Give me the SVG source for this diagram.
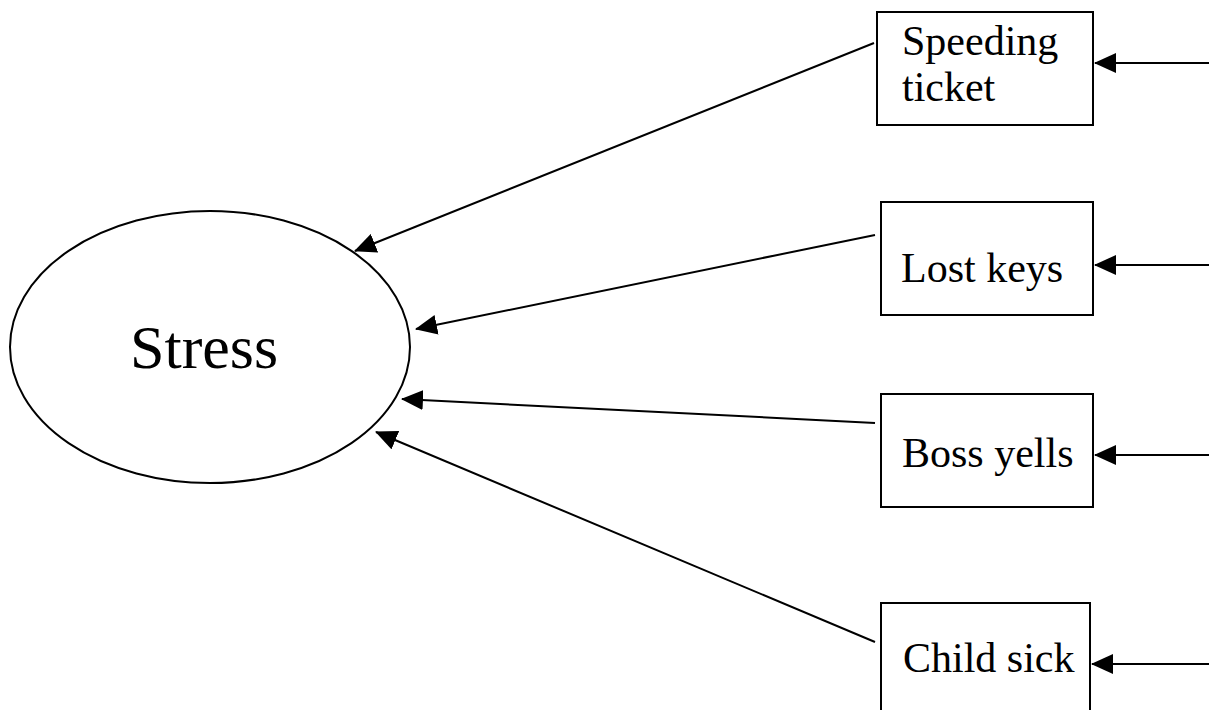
<svg xmlns="http://www.w3.org/2000/svg" width="1209" height="710" viewBox="0 0 1209 710">
  <style>
    .shape { fill: #fff; stroke: #000; stroke-width: 2; }
    .edge { stroke: #000; stroke-width: 2; fill: none; marker-end: url(#arrow); }
    .label { font-family: "Liberation Serif", "Times New Roman", serif; font-size: 42px; fill: #000; }
    .big { font-size: 62px; }
  </style>
  <defs>
    <marker id="arrow" viewBox="0 0 22 20" refX="21" refY="10" markerWidth="22" markerHeight="20" markerUnits="userSpaceOnUse" orient="auto">
      <path d="M0,0 L22,10 L0,20 Z" fill="#000"/>
    </marker>
  </defs>
  <rect width="1209" height="710" fill="#fff"/>

  <g id="stress">
    <ellipse class="shape" cx="210" cy="347" rx="200" ry="136"/>
    <text class="label big" x="130" y="368">Stress</text>
  </g>

  <g id="speeding-ticket">
    <rect class="shape" x="877" y="12" width="216" height="113"/>
    <text class="label" x="902" y="55">Speeding</text>
    <text class="label" x="902" y="101">ticket</text>
  </g>

  <g id="lost-keys">
    <rect class="shape" x="881" y="202" width="212" height="113"/>
    <text class="label" x="901" y="282">Lost keys</text>
  </g>

  <g id="boss-yells">
    <rect class="shape" x="881" y="394" width="212" height="113"/>
    <text class="label" x="902" y="467">Boss yells</text>
  </g>

  <g id="child-sick">
    <rect class="shape" x="881" y="603" width="209" height="120"/>
    <text class="label" x="903" y="672">Child sick</text>
  </g>

  <g id="connectors">
    <line class="edge" x1="874" y1="43" x2="355" y2="251"/>
    <line class="edge" x1="875" y1="235" x2="416" y2="329"/>
    <line class="edge" x1="875" y1="423" x2="402" y2="399"/>
    <line class="edge" x1="875" y1="642" x2="376" y2="432"/>
    <line class="edge" x1="1209" y1="63" x2="1095" y2="63"/>
    <line class="edge" x1="1209" y1="265" x2="1095" y2="265"/>
    <line class="edge" x1="1209" y1="455" x2="1095" y2="455"/>
    <line class="edge" x1="1209" y1="664" x2="1092" y2="664"/>
  </g>
</svg>
